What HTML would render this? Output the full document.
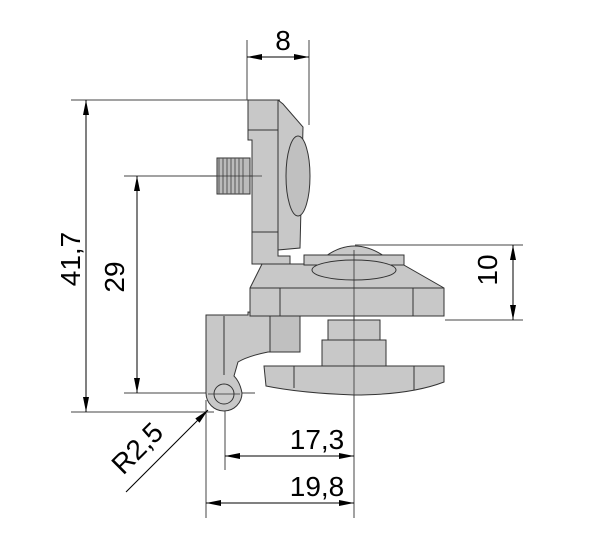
<!DOCTYPE html>
<html><head><style>body{margin:0;background:#fff}svg{display:block}</style></head><body>
<svg width="600" height="542" viewBox="0 0 600 542" xmlns="http://www.w3.org/2000/svg" font-family="Liberation Sans, sans-serif">
<defs>
<marker id="a" viewBox="0 0 10 4" refX="10" refY="2" markerWidth="16" markerHeight="6" markerUnits="userSpaceOnUse" orient="auto-start-reverse"><path d="M0,0L10,2L0,4z" fill="#000"/></marker>
</defs>
<g stroke="#444" stroke-width="1" fill="none">
<line x1="247" y1="40" x2="247" y2="100"/><line x1="309" y1="40" x2="309" y2="125"/>
<line x1="71" y1="100" x2="280" y2="100"/>
<line x1="71" y1="412" x2="214" y2="412"/>
<line x1="124" y1="176" x2="262" y2="176"/>
<line x1="124" y1="393" x2="255" y2="393"/>
<line x1="355" y1="245" x2="523" y2="245"/>
<line x1="445" y1="320" x2="523" y2="320"/>
<line x1="206" y1="400" x2="206" y2="518"/>
<line x1="225" y1="393" x2="225" y2="470"/>
<line x1="354" y1="250" x2="354" y2="518"/>
</g>
<g stroke="#000" stroke-width="1" fill="none">
<line x1="247" y1="57" x2="309" y2="57" marker-start="url(#a)" marker-end="url(#a)"/>
<line x1="86" y1="100" x2="86" y2="412" marker-start="url(#a)" marker-end="url(#a)"/>
<line x1="137" y1="176" x2="137" y2="393" marker-start="url(#a)" marker-end="url(#a)"/>
<line x1="513" y1="245" x2="513" y2="320" marker-start="url(#a)" marker-end="url(#a)"/>
<line x1="225" y1="456" x2="354" y2="456" marker-start="url(#a)" marker-end="url(#a)"/>
<line x1="206" y1="503" x2="354" y2="503" marker-start="url(#a)" marker-end="url(#a)"/>
<line x1="126" y1="492" x2="208" y2="410" marker-end="url(#a)"/>
</g>
<g fill="#c8c8c8" stroke="#333" stroke-width="1">
<rect x="217" y="158" width="33" height="36" fill="#bbb"/>
<path d="M219,158v36M223,158v36M227,158v36M231,158v36M235,158v36M239,158v36M243,158v36" fill="none" stroke="#555"/>
<path d="M248,100H278L283,104L303,127L300,248L278,250V254H258L255,245H252V140H248z"/>
<line x1="278" y1="100" x2="278" y2="250"/>
<line x1="248" y1="130" x2="278" y2="130"/>
<ellipse cx="298" cy="176" rx="12" ry="40" fill="#c0c0c0"/>
<path d="M252,232H278V256H290V264H252z"/>
<path d="M206,315H248V312L300,315V352H268Q248,356 238,362L234,376Q240,382 242,393A18,18 0 1 1 206,393z"/>
<line x1="224" y1="316" x2="224" y2="375"/>
<path d="M270,315H300V352H270z" fill="#c0c0c0"/>
<circle cx="224" cy="394" r="10" fill="#ccc"/>
<rect x="328" y="320" width="52" height="22"/>
<rect x="322" y="340" width="64" height="27"/>
<path d="M264,366H444V382Q410,395 354,395Q300,393 266,386z"/>
<line x1="294" y1="366" x2="294" y2="388"/><line x1="414" y1="366" x2="414" y2="390"/>
<path d="M262,264L402,264L444,288V316H250V288z"/>
<line x1="250" y1="288" x2="444" y2="288"/>
<line x1="280" y1="288" x2="280" y2="316"/><line x1="413" y1="288" x2="413" y2="316"/>
<path d="M326,256Q354,236 384,256z"/>
<rect x="304" y="255" width="100" height="10"/>
<ellipse cx="354" cy="270" rx="42" ry="10" fill="#c4c4c4"/>
</g>
<g stroke="#333" stroke-width="0.8">
<line x1="208" y1="394" x2="240" y2="394"/>
<line x1="354" y1="250" x2="354" y2="395"/>
<line x1="200" y1="176" x2="262" y2="176"/>
</g>
<g font-size="28" fill="#000" text-anchor="middle">
<text x="283" y="50">8</text>
<text x="317" y="449">17,3</text>
<text x="317" y="496">19,8</text>
<text transform="translate(80,259) rotate(-90)">41,7</text>
<text transform="translate(124,277) rotate(-90)">29</text>
<text transform="translate(497,270) rotate(-90)">10</text>
<text transform="translate(144,455) rotate(-45)">R2,5</text>
</g>
</svg>
</body></html>
